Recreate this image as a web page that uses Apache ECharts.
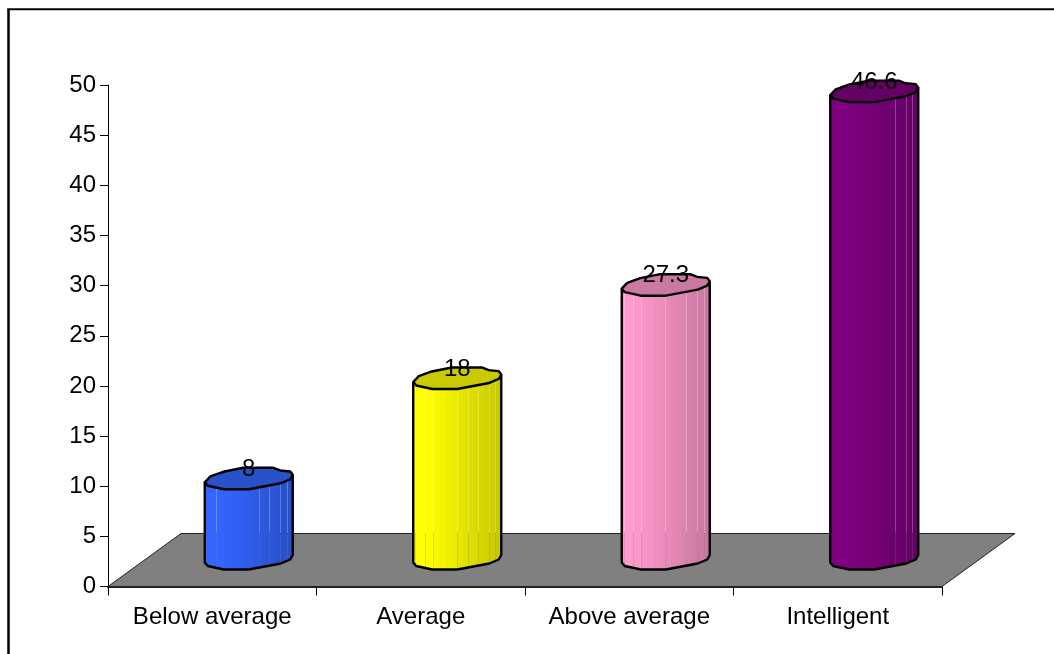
<!DOCTYPE html>
<html>
<head>
<meta charset="utf-8">
<title>Column chart</title>
<script src="https://cdn.jsdelivr.net/npm/echarts@6/dist/echarts.min.js"></script>
<style>
html,body{margin:0;padding:0;background:#fff}
#chart{width:1054px;height:654px}
</style>
</head>
<body>
<div id="chart"></div>
<script>
const categories = ['Below average', 'Average', 'Above average', 'Intelligent'];
const percentages = [8, 18, 27.3, 46.6];
const columnColors = ['#3366FF', '#FFFF00', '#FF99CC', '#800080'];
const yTicks = { min: 0, max: 50, step: 5 };

const FONT = 'Liberation Sans, Arial, sans-serif';
const FONT_SIZE = 24;

// Oblique projection of the chart's depth
const DEPTH_X = 73;
const DEPTH_Y = 53;
const COLUMN_SHIFT = DEPTH_X / 2;

// Faceted cross-section of a column, relative to its axis point
const frontEdge = [[-44, -24], [-41, -20.5], [-25, -17], [0, -17], [32, -23], [41.5, -27], [44, -31.5]];
const backEdge = [[41.5, -34.8], [31.5, -35.8], [24.5, -38.5], [-5.5, -38.5], [-25.5, -34.5], [-38.5, -29.8]];
// Shading strip boundaries across a column
const stripEdges = [-44, -41.5, -32, -24, -18, -12, -6, 0, 5.5, 11, 16, 21, 26, 32, 38.5, 44];
// Boundaries where a hairline gap shows between strips, per column
const columnGaps = [
  [-32, 11, 21, 32, 38.5],
  [-41.5, -32, -24, 0, 11, 21, 32, 38.5],
  [-41.5, -32, -24, 0, 21, 32, 38.5],
  [21, 32, 38.5]
];

function shade(hex, t) {
  const n = parseInt(hex.slice(1), 16);
  const f = 1 - 0.22 * t;
  const c = [(n >> 16) & 255, (n >> 8) & 255, n & 255].map(v => Math.round(v * f));
  return 'rgb(' + c.join(',') + ')';
}

function edgeY(dx) {
  for (let i = 1; i < frontEdge.length; i++) {
    const a = frontEdge[i - 1], b = frontEdge[i];
    if (dx <= b[0]) return a[1] + (b[1] - a[1]) * (dx - a[0]) / (b[0] - a[0]);
  }
  return frontEdge[frontEdge.length - 1][1];
}

// Points of the front edge between two x offsets, lying on a given baseline
function frontBetween(a, b, cx, y) {
  const dxs = [a].concat(frontEdge.map(p => p[0]).filter(d => d > a && d < b), [b]);
  return dxs.map(d => [cx + d, y + edgeY(d)]);
}

function renderFloor(params, api) {
  const g = params.coordSys;
  const bottom = g.y + g.height;
  return {
    type: 'polygon',
    shape: { points: [[g.x, bottom], [g.x + g.width, bottom], [g.x + g.width + DEPTH_X, bottom - DEPTH_Y], [g.x + DEPTH_X, bottom - DEPTH_Y]] },
    style: { fill: '#808080', stroke: '#222', lineWidth: 1 },
    silent: true
  };
}

function renderColumn(params, api) {
  const i = api.value(0);
  const value = api.value(1);
  const top = api.coord([i, value]);
  const base = api.coord([i, 0]);
  const cx = top[0] + COLUMN_SHIFT;
  const color = columnColors[i];
  const gaps = columnGaps[i];
  const children = [];

  // Body: vertical shading strips
  for (let s = 0; s < stripEdges.length - 1; s++) {
    const a = stripEdges[s], b = stripEdges[s + 1];
    const t = Math.max(0, (a + b) / 2 + 30) / 74;
    const xb = s === stripEdges.length - 2 ? b : (gaps.includes(b) ? Math.floor(cx + b) + 0.5 - cx : b + 1);
    const xa = gaps.includes(a) ? Math.floor(cx + a) + 0.5 - cx : a;
    const upper = frontBetween(xa, xb, cx, top[1]);
    const lower = frontBetween(xa, xb, cx, base[1]).reverse();
    children.push({
      type: 'polygon',
      shape: { points: upper.concat(lower) },
      style: { fill: shade(color, t) },
      silent: true
    });
  }

  // Side and bottom outline
  const first = frontEdge[0], last = frontEdge[frontEdge.length - 1];
  children.push({
    type: 'polyline',
    shape: {
      points: [[cx + first[0], top[1] + first[1]]]
        .concat(frontEdge.map(p => [cx + p[0], base[1] + p[1]]))
        .concat([[cx + last[0], top[1] + last[1]]])
    },
    style: { fill: 'none', stroke: '#000', lineWidth: 2.4, lineJoin: 'round' },
    silent: true
  });

  // Top cap
  children.push({
    type: 'polygon',
    shape: { points: frontEdge.concat(backEdge).map(p => [cx + p[0], top[1] + p[1]]) },
    style: { fill: shade(color, 0.95), stroke: '#000', lineWidth: 2.4, lineJoin: 'round' },
    silent: true
  });

  // Value label
  children.push({
    type: 'text',
    style: {
      x: cx, y: top[1] - 37,
      text: String(value),
      fill: '#000',
      font: FONT_SIZE + 'px ' + FONT,
      align: 'center',
      verticalAlign: 'middle'
    },
    silent: true
  });
  return { type: 'group', children: children };
}

const chart = echarts.init(document.getElementById('chart'), null, { renderer: 'canvas' });
chart.setOption({
  animation: false,
  backgroundColor: '#fff',
  tooltip: { show: false },
  grid: { left: 108, top: 85, width: 834, height: 501.5, containLabel: false },
  xAxis: {
    type: 'category',
    data: categories,
    boundaryGap: true,
    axisLine: { show: true, lineStyle: { color: '#222', width: 2 } },
    axisTick: { show: true, alignWithLabel: false, length: 9, lineStyle: { color: '#000', width: 1 } },
    axisLabel: { color: '#000', fontFamily: FONT, fontSize: FONT_SIZE, margin: 19, interval: 0 },
    splitLine: { show: false }
  },
  yAxis: {
    type: 'value',
    min: yTicks.min,
    max: yTicks.max,
    interval: yTicks.step,
    axisLine: { show: true, lineStyle: { color: '#000', width: 1 } },
    axisTick: { show: true, length: 8, lineStyle: { color: '#000', width: 1 } },
    axisLabel: { color: '#000', fontFamily: FONT, fontSize: FONT_SIZE, margin: 12, padding: [3, 0, 0, 0] },
    splitLine: { show: false }
  },
  graphic: [
    { type: 'line', shape: { x1: 8.5, y1: 9.3, x2: 8.5, y2: 654 }, style: { stroke: '#000', lineWidth: 2.5 }, silent: true },
    { type: 'line', shape: { x1: 7.3, y1: 9.3, x2: 1054, y2: 9.3 }, style: { stroke: '#000', lineWidth: 2 }, silent: true }
  ],
  series: [
    {
      type: 'custom',
      name: 'Floor',
      z: 1,
      coordinateSystem: 'cartesian2d',
      renderItem: renderFloor,
      data: [[0, 0]],
      encode: { x: 0, y: 1 },
      clip: false
    },
    {
      type: 'custom',
      name: 'Percentage',
      z: 3,
      coordinateSystem: 'cartesian2d',
      renderItem: renderColumn,
      data: percentages.map((v, i) => [i, v]),
      encode: { x: 0, y: 1 },
      clip: false
    }
  ]
});
</script>
</body>
</html>
